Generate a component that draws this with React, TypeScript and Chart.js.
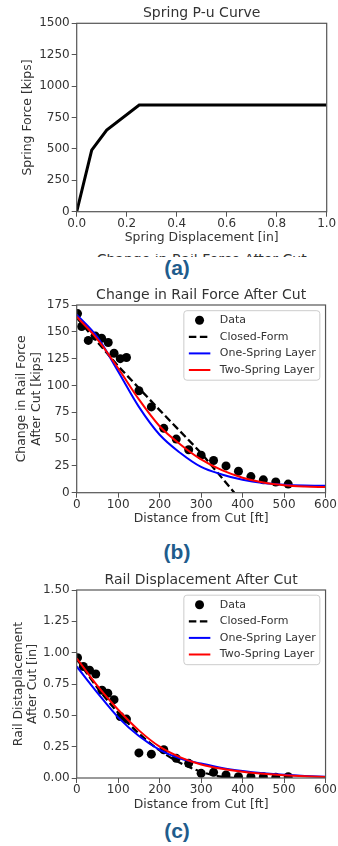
import React, { useEffect, useRef } from "react";
import { Chart, registerables } from "chart.js";

Chart.register(...registerables);

const FONT = "'DejaVu Sans', 'Noto Sans', sans-serif";
const TEXT = "#333333";
const FRAME = "#555555";
const CAPTION = "#1f5c8c";

// ---------- (a) Spring P-u Curve ----------
const springDisp = [0, 0.06, 0.12, 0.25, 1.0];
const springForce = [0, 490, 650, 850, 850];
const springXTicks = [0, 0.2, 0.4, 0.6, 0.8, 1.0];
const springYTicks = [0, 250, 500, 750, 1000, 1250, 1500];

// ---------- (b) Change in Rail Force After Cut ----------
const forceDataDist = [2, 12, 28, 45, 60, 76, 90, 105, 120, 150, 180, 210, 240, 270, 300, 330, 360, 390, 420, 450, 480, 510];
const forceDataVal = [167, 155, 142, 146, 144, 140, 130, 125, 126, 95, 80, 60, 50, 40, 35, 30, 25, 20, 15, 12, 10, 8];
const forceClosedDist = [0, 100, 200, 300, 380];
const forceClosedVal = [163, 118, 77, 37, 0];
const curveDist = [0, 50, 100, 150, 200, 250, 300, 350, 400, 450, 500, 550, 600];
const forceOneSpring = [166, 145, 113, 80, 54, 37, 24, 17, 12, 9, 7.5, 6.8, 6.5];
const forceTwoSpring = [164, 143, 116, 87, 62, 45, 31, 21, 14, 9.5, 7, 5.8, 5.2];
const distTicks = [0, 100, 200, 300, 400, 500, 600];
const forceTicks = [0, 25, 50, 75, 100, 125, 150, 175];

// ---------- (c) Rail Displacement After Cut ----------
const dispDataDist = [2, 16, 31, 46, 61, 75, 90, 105, 120, 150, 180, 210, 240, 270, 300, 330, 360, 390, 420, 450, 480, 510];
const dispDataVal = [0.96, 0.89, 0.86, 0.83, 0.7, 0.676, 0.625, 0.49, 0.47, 0.2, 0.19, 0.225, 0.157, 0.117, 0.037, 0.045, 0.024, 0.01, 0.01, 0.01, 0.005, 0.01];
const dispClosedDist = [0, 50, 100, 150, 200, 250, 300, 350, 380];
const dispClosedVal = [0.95, 0.72, 0.52, 0.355, 0.22, 0.12, 0.05, 0.01, 0];
const dispOneSpring = [0.89, 0.68, 0.484, 0.335, 0.225, 0.155, 0.115, 0.08, 0.056, 0.038, 0.025, 0.016, 0.01];
const dispTwoSpring = [0.955, 0.735, 0.545, 0.38, 0.25, 0.165, 0.108, 0.073, 0.049, 0.033, 0.021, 0.013, 0.008];
const dispTicks = [0, 0.25, 0.5, 0.75, 1.0, 1.25, 1.5];

const LEGEND_LABELS = ["Data", "Closed-Form", "One-Spring Layer", "Two-Spring Layer"];

const pts = (xs: number[], ys: number[]) => xs.map((x, i) => ({ x, y: ys[i] }));

function dataDs(label: string, xs: number[], ys: number[]) {
  return {
    label,
    data: pts(xs, ys),
    showLine: false,
    pointRadius: 4.5,
    pointHoverRadius: 4.5,
    pointBackgroundColor: "#000000",
    pointBorderWidth: 0,
    order: 4,
    clip: 0,
  };
}

function lineDs(label: string, xs: number[], ys: number[], color: string, width: number, dash: number[], order: number, smooth: boolean) {
  return {
    label,
    data: pts(xs, ys),
    showLine: true,
    borderColor: color,
    backgroundColor: color,
    borderWidth: width,
    borderDash: dash,
    pointRadius: 0,
    pointHoverRadius: 0,
    fill: false,
    tension: 0,
    cubicInterpolationMode: smooth ? "monotone" : "default",
    order,
    clip: 0,
  };
}

const framePlugin = {
  id: "axesFrame",
  afterDatasetsDraw(chart: any) {
    const { ctx, chartArea } = chart;
    ctx.save();
    ctx.strokeStyle = FRAME;
    ctx.lineWidth = 1.2;
    ctx.strokeRect(chartArea.left, chartArea.top, chartArea.right - chartArea.left, chartArea.bottom - chartArea.top);
    ctx.restore();
  },
};

const legendPlugin = {
  id: "legendBox",
  afterDatasetsDraw(chart: any, _args: any, opts: any) {
    if (!opts || !opts.show) return;
    const { ctx, chartArea } = chart;
    const w = 136;
    const h = 69.5;
    const x0 = chartArea.right - 5.7 - w;
    const y0 = chartArea.top + opts.top;
    ctx.save();
    ctx.beginPath();
    const r = 3;
    ctx.moveTo(x0 + r, y0);
    ctx.lineTo(x0 + w - r, y0);
    ctx.arcTo(x0 + w, y0, x0 + w, y0 + r, r);
    ctx.lineTo(x0 + w, y0 + h - r);
    ctx.arcTo(x0 + w, y0 + h, x0 + w - r, y0 + h, r);
    ctx.lineTo(x0 + r, y0 + h);
    ctx.arcTo(x0, y0 + h, x0, y0 + h - r, r);
    ctx.lineTo(x0, y0 + r);
    ctx.arcTo(x0, y0, x0 + r, y0, r);
    ctx.closePath();
    ctx.fillStyle = "rgba(255,255,255,0.85)";
    ctx.fill();
    ctx.strokeStyle = "#cccccc";
    ctx.lineWidth = 1;
    ctx.stroke();
    chart.data.datasets.forEach((ds: any, i: number) => {
      const cy = y0 + 9.5 + i * 16.6;
      if (ds.showLine === false) {
        ctx.beginPath();
        ctx.fillStyle = ds.pointBackgroundColor;
        ctx.arc(x0 + 15.7, cy, ds.pointRadius, 0, Math.PI * 2);
        ctx.fill();
      } else {
        ctx.beginPath();
        ctx.strokeStyle = ds.borderColor;
        ctx.lineWidth = ds.borderWidth;
        ctx.setLineDash(ds.borderDash || []);
        ctx.moveTo(x0 + 5, cy);
        ctx.lineTo(x0 + 26.5, cy);
        ctx.stroke();
        ctx.setLineDash([]);
      }
      ctx.fillStyle = TEXT;
      ctx.font = `11px ${FONT}`;
      ctx.textAlign = "left";
      ctx.textBaseline = "middle";
      ctx.fillText(ds.label, x0 + 36, cy);
    });
    ctx.restore();
  },
};

type Spec = {
  title: string;
  padTop: number;
  titleBottom: number;
  xMin: number;
  xMax: number;
  xTicks: number[];
  xDec: number;
  xTitle: string;
  xHeight: number;
  xTitleBottom: number;
  xTickPad: number;
  yMin: number;
  yMax: number;
  yTicks: number[];
  yDec: number;
  yTitle: string | string[];
  yTitlePad: number;
  datasets: any[];
  legendTop?: number;
};

function makeConfig(s: Spec): any {
  const tickFont = { family: FONT, size: 12, lineHeight: 1 };
  const labelFont = { family: FONT, size: 12.4, lineHeight: 1.2 };
  const grid = {
    display: true,
    drawOnChartArea: false,
    drawTicks: true,
    tickLength: 5,
    tickColor: FRAME,
    tickWidth: 1,
    color: FRAME,
  };
  return {
    type: "scatter",
    data: { datasets: s.datasets },
    options: {
      animation: false,
      responsive: false,
      maintainAspectRatio: false,
      devicePixelRatio: 1,
      events: [],
      layout: { padding: { top: s.padTop, right: 11.3, bottom: 0, left: 0 } },
      plugins: {
        legend: { display: false },
        tooltip: { enabled: false },
        title: {
          display: true,
          text: s.title,
          fullSize: false,
          color: TEXT,
          font: { family: FONT, size: 14, weight: "normal", lineHeight: 1.2 },
          padding: { top: 0, bottom: s.titleBottom },
        },
        legendBox: { show: s.legendTop !== undefined, top: s.legendTop },
      },
      scales: {
        x: {
          type: "linear",
          position: "bottom",
          min: s.xMin,
          max: s.xMax,
          afterBuildTicks: (sc: any) => {
            sc.ticks = s.xTicks.map((v) => ({ value: v }));
          },
          afterFit: (sc: any) => {
            sc.height = s.xHeight;
          },
          ticks: {
            font: tickFont,
            color: TEXT,
            padding: s.xTickPad,
            maxRotation: 0,
            autoSkip: false,
            callback: (v: any) => Number(v).toFixed(s.xDec),
          },
          grid,
          border: { display: false },
          title: {
            display: true,
            text: s.xTitle,
            color: TEXT,
            font: labelFont,
            padding: { top: 0, bottom: s.xTitleBottom },
          },
        },
        y: {
          type: "linear",
          position: "left",
          min: s.yMin,
          max: s.yMax,
          afterBuildTicks: (sc: any) => {
            sc.ticks = s.yTicks.map((v) => ({ value: v }));
          },
          afterFit: (sc: any) => {
            sc.width = 76.7;
          },
          ticks: {
            font: tickFont,
            color: TEXT,
            padding: 2,
            autoSkip: false,
            callback: (v: any) => Number(v).toFixed(s.yDec),
          },
          grid,
          border: { display: false },
          title: {
            display: true,
            text: s.yTitle,
            color: TEXT,
            font: labelFont,
            padding: { top: s.yTitlePad, bottom: 0 },
          },
        },
      },
    },
    plugins: [framePlugin, legendPlugin],
  };
}

const specA: Spec = {
  title: "Spring P-u Curve",
  padTop: 5,
  titleBottom: 1.5,
  xMin: 0,
  xMax: 1,
  xTicks: springXTicks,
  xDec: 1,
  xTitle: "Spring Displacement [in]",
  xHeight: 38.3,
  xTitleBottom: 4.6,
  xTickPad: 1,
  yMin: 0,
  yMax: 1500,
  yTicks: springYTicks,
  yDec: 0,
  yTitle: "Spring Force [kips]",
  yTitlePad: 20.5,
  datasets: [lineDs("Spring P-u", springDisp, springForce, "#000000", 3, [], 1, false)],
};

const specB: Spec = {
  title: "Change in Rail Force After Cut",
  padTop: 7.4,
  titleBottom: 0.8,
  xMin: 0,
  xMax: 600,
  xTicks: distTicks,
  xDec: 0,
  xTitle: "Distance from Cut [ft]",
  xHeight: 37.3,
  xTitleBottom: 3.3,
  xTickPad: 1,
  yMin: 0,
  yMax: 175,
  yTicks: forceTicks,
  yDec: 0,
  yTitle: ["Change in Rail Force", "After Cut [kips]"],
  yTitlePad: 14.3,
  legendTop: 5.7,
  datasets: [
    dataDs(LEGEND_LABELS[0], forceDataDist, forceDataVal),
    lineDs(LEGEND_LABELS[1], forceClosedDist, forceClosedVal, "#000000", 2.3, [7.5, 3.5], 3, false),
    lineDs(LEGEND_LABELS[2], curveDist, forceOneSpring, "#0000ff", 2, [], 2, true),
    lineDs(LEGEND_LABELS[3], curveDist, forceTwoSpring, "#ff0000", 2, [], 1, true),
  ],
};

const specC: Spec = {
  title: "Rail Displacement After Cut",
  padTop: 6.6,
  titleBottom: 1.6,
  xMin: 0,
  xMax: 600,
  xTicks: distTicks,
  xDec: 0,
  xTitle: "Distance from Cut [ft]",
  xHeight: 37,
  xTitleBottom: 2.6,
  xTickPad: 1,
  yMin: 0,
  yMax: 1.5,
  yTicks: dispTicks,
  yDec: 2,
  yTitle: ["Rail Distaplacement", "After Cut [in]"],
  yTitlePad: 10.9,
  legendTop: 5.2,
  datasets: [
    dataDs(LEGEND_LABELS[0], dispDataDist, dispDataVal),
    lineDs(LEGEND_LABELS[1], dispClosedDist, dispClosedVal, "#000000", 2.3, [7.5, 3.5], 3, true),
    lineDs(LEGEND_LABELS[2], curveDist, dispOneSpring, "#0000ff", 2, [], 2, true),
    lineDs(LEGEND_LABELS[3], curveDist, dispTwoSpring, "#ff0000", 2, [], 1, true),
  ],
};

function ChartBox({ top, height, spec }: { top: number; height: number; spec: Spec }) {
  const ref = useRef<HTMLCanvasElement>(null);
  useEffect(() => {
    if (!ref.current) return;
    const chart = new Chart(ref.current, makeConfig(spec));
    return () => chart.destroy();
  }, [spec]);
  return (
    <div style={{ position: "absolute", left: 0, top, width: 338, height }}>
      <canvas ref={ref} width={338} height={height} style={{ display: "block", width: 338, height }} />
    </div>
  );
}

function Caption({ text, top }: { text: string; top: number }) {
  return (
    <div
      style={{
        position: "absolute",
        left: 77,
        top,
        width: 200,
        textAlign: "center",
        fontFamily: "'Liberation Sans', Arial, sans-serif",
        fontWeight: "bold",
        fontSize: 21,
        lineHeight: "24px",
        color: CAPTION,
      }}
    >
      {text}
    </div>
  );
}

export default function App() {
  return (
    <div style={{ position: "absolute", left: 0, top: 0, width: 338, height: 846, background: "#ffffff", overflow: "hidden" }}>
      <ChartBox top={0} height={250} spec={specA} />
      <div style={{ position: "absolute", left: 0, top: 253.5, width: 338, height: 3.5, overflow: "hidden" }}>
        <div
          style={{
            position: "absolute",
            left: 0,
            top: -3,
            width: 403.4,
            textAlign: "center",
            fontFamily: FONT,
            fontSize: 14,
            lineHeight: "16.8px",
            color: TEXT,
            whiteSpace: "nowrap",
          }}
        >
          Change in Rail Force After Cut
        </div>
      </div>
      <Caption text="(a)" top={255.7} />
      <ChartBox top={280} height={250} spec={specB} />
      <Caption text="(b)" top={540.2} />
      <ChartBox top={565} height={250} spec={specC} />
      <Caption text="(c)" top={819.2} />
    </div>
  );
}
